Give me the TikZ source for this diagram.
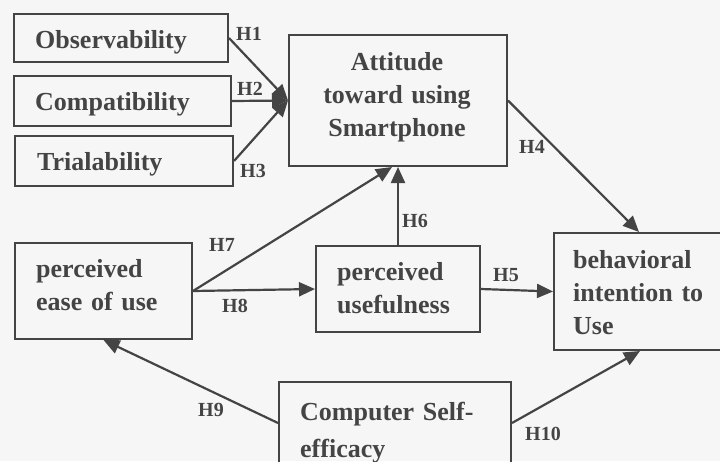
\documentclass[tikz,border=0pt]{standalone}
\usepackage{fontspec}
\setmainfont{Liberation Serif}
\usetikzlibrary{arrows.meta}
\definecolor{ink}{HTML}{444444}
\definecolor{paper}{HTML}{F6F6F6}
\tikzset{
  box/.style={draw=ink, line width=2pt, inner sep=0pt, anchor=north west},
  boxtext/.style={inner sep=0pt, anchor=base west, align=left, text=ink,
    font=\bfseries\fontsize{26}{33}\selectfont},
  hyp/.style={inner sep=0pt, text=ink, font=\bfseries\fontsize{20}{22}\selectfont},
  link/.style={draw=ink, line width=2.2pt, -{Triangle[length=16pt,width=14pt]}}
}
\begin{document}
\begin{tikzpicture}[x=1pt, y=-1pt]
  \useasboundingbox (0,0) rectangle (720,461);
  \fill[paper] (0,0) rectangle (720,461);
  \clip (0,0) rectangle (720,461);

  % construct boxes
  \node[box, minimum width=214pt, minimum height=48pt] (obs) at (13,13) {};
  \node[box, minimum width=217pt, minimum height=50pt] (comp) at (13,75) {};
  \node[box, minimum width=218pt, minimum height=50pt] (trial) at (14,135) {};
  \node[box, minimum width=218pt, minimum height=131pt] (att) at (288,34) {};
  \node[box, minimum width=177pt, minimum height=96pt] (ease) at (14,242) {};
  \node[box, minimum width=164pt, minimum height=86pt] (use) at (315,245) {};
  \node[box, minimum width=172pt, minimum height=117pt] (beh) at (553,232) {};
  \node[box, minimum width=232pt, minimum height=82pt] (cse) at (278,381) {};

  % box texts
  \node[boxtext] (obs-t) at (35,48) {Observability};
  \node[boxtext] (comp-t) at (35,110) {Compatibility};
  \node[boxtext] (trial-t) at (37,170) {Trialability};
  \node[boxtext, anchor=base, align=center, text width=210pt] (att-t) at (397,70)
    {Attitude\\toward using\\Smartphone};
  \node[boxtext, text width=150pt] (ease-t) at (36,277) {perceived\\ease of use};
  \node[boxtext, text width=140pt] (use-t) at (337,280) {perceived\\usefulness};
  \node[boxtext, text width=150pt] (beh-t) at (573,268) {behavioral\\intention to\\Use};
  \node[boxtext, text width=205pt, font=\bfseries\fontsize{26}{37}\selectfont]
    (cse-t) at (300,420) {Computer Self-\\efficacy};

  % hypothesised paths
  \draw[link] (obs.east) -- (att.west);
  \draw[link] (comp.east) -- (att.west);
  \draw[link] (trial.east) -- (att.west);
  \draw[link] (att.east) -- ([xshift=-1pt]beh.north);
  \draw[link] (use.east) -- (beh.west);
  \draw[link] (use.north) -- (att.south);
  \draw[link] (ease.east) -- ([xshift=-6pt]att.south);
  \draw[link] (ease.east) -- (use.west);
  \draw[link] (cse.west) -- (ease.south);
  \draw[link] (cse.east) -- (beh.south);

  % path labels
  \node[hyp] (h1) at (249,34) {H1};
  \node[hyp] (h2) at (250,89) {H2};
  \node[hyp] (h3) at (253,171) {H3};
  \node[hyp] (h4) at (532,147) {H4};
  \node[hyp] (h5) at (506,275) {H5};
  \node[hyp] (h6) at (415,221) {H6};
  \node[hyp] (h7) at (222,245) {H7};
  \node[hyp] (h8) at (235,306) {H8};
  \node[hyp] (h9) at (211,410) {H9};
  \node[hyp] (h10) at (543,434) {H10};
\end{tikzpicture}
\end{document}
